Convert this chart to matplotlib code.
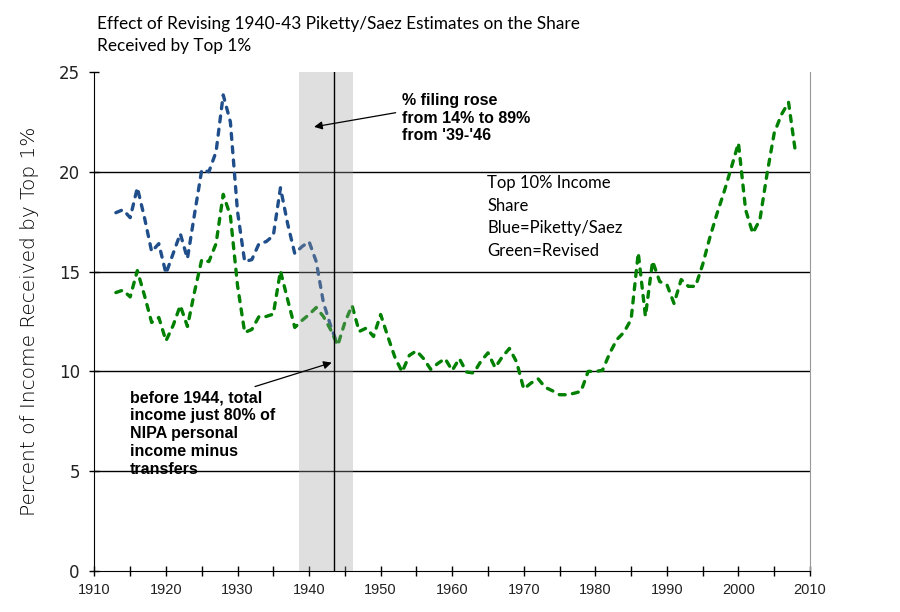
import matplotlib
matplotlib.use("Agg")
import matplotlib.pyplot as plt
import numpy as np

# ---- data ----
blue_years = list(range(1913, 1945))
blue_values = [17.95, 18.1, 17.7, 19.2, 17.7, 16.0, 16.4, 14.9, 15.9, 16.9,
               15.65, 17.9, 20.1, 20.0, 21.0, 23.85, 22.5, 18.0, 15.5, 15.6,
               16.4, 16.5, 16.8, 19.2, 17.4, 15.9, 16.25, 16.5, 15.5, 13.45,
               12.3, 11.3]

green_years = list(range(1913, 2009))
green_values = [13.95, 14.07, 13.73, 15.05, 13.8, 12.45, 12.7, 11.53, 12.3, 13.3,
                12.25, 14.0, 15.6, 15.5, 16.4, 18.87, 17.8, 14.3, 11.95, 12.1,
                12.75, 12.75, 12.87, 15.03, 13.6, 12.2, 12.55, 12.85, 13.2, 12.75,
                12.1, 11.3, 12.45, 13.3, 12.0, 12.17, 11.75, 12.85, 11.75, 10.7,
                9.97, 10.8, 11.03, 10.64, 10.1, 10.4, 10.64, 10.05, 10.64, 9.97,
                9.92, 10.5, 10.93, 10.19, 10.73, 11.15, 10.47, 9.12, 9.41, 9.63,
                9.2, 9.03, 8.83, 8.83, 8.9, 9.0, 10.0, 10.0, 10.05, 10.9,
                11.59, 11.96, 12.6, 15.94, 12.76, 15.52, 14.5, 14.35, 13.4, 14.6,
                14.26, 14.26, 15.35, 16.7, 17.9, 19.0, 20.2, 21.44, 18.1, 16.92,
                17.6, 19.9, 21.94, 22.86, 23.48, 20.9]

band_start, band_end = 1938.6, 1946.2
marker_year = 1943.5
y_ticks = [0, 5, 10, 15, 20, 25]
x_major = list(range(1910, 2011, 10))
x_minor = list(range(1915, 2010, 10))
grid_levels = [5, 10, 15, 20]

title_line1 = "Effect of Revising 1940-43 Piketty/Saez Estimates on the Share"
title_line2 = "Received by Top 1%"
ylabel = "Percent of Income Received by Top 1%"
note1 = "% filing rose\nfrom 14% to 89%\nfrom '39-'46"
note2 = "before 1944, total\nincome just 80% of\nNIPA personal\nincome minus\ntransfers"
note3 = "Top 10% Income\nShare\nBlue=Piketty/Saez\nGreen=Revised"

# ---- figure ----
fig = plt.figure(figsize=(9, 6.12), dpi=100)
ax = fig.add_axes([0.1049, 0.067, 0.7951, 0.8154])
ax.set_xlim(1910, 2010)
ax.set_ylim(0, 25)

for g in grid_levels:
    ax.axhline(g, color="black", lw=1.0, zorder=1)

dash = (0, (1.8, 2.2))
ax.plot(blue_years, blue_values, color="#1F4E8A", lw=2.4, linestyle=dash,
        dash_capstyle="round", zorder=2)
ax.plot(green_years, green_values, color="#008000", lw=2.4, linestyle=dash,
        dash_capstyle="round", zorder=2.5)

ax.axvspan(band_start, band_end, color="#a0a0a0", alpha=0.33, lw=0, zorder=3)
ax.axvline(marker_year, color="black", lw=1.0, zorder=4)

# spines / ticks
ax.spines["top"].set_visible(False)
ax.spines["right"].set_color("#999999")
ax.spines["left"].set_color("black")
ax.spines["bottom"].set_color("black")
ax.set_yticks(y_ticks)
ax.set_xticks(x_major)
ax.set_xticks(x_minor, minor=True)
ax.tick_params(axis="y", direction="inout", length=7, width=1, pad=7,
               labelsize=12, labelcolor="#222222")
ax.tick_params(axis="x", which="both", direction="inout", length=7, width=1,
               pad=5, labelsize=10.5, labelcolor="#222222")
for lab in ax.get_xticklabels():
    lab.set_family(["Liberation Sans", "DejaVu Sans"])
for lab in ax.get_yticklabels():
    lab.set_family(["DejaVu Sans"])

ax.set_ylabel(ylabel, fontsize=14.5, family=["DejaVu Sans"], color="black",
              fontweight="light", labelpad=14)

title_font = dict(ha="left", va="baseline", fontsize=12.4,
                  family=["Lato", "DejaVu Sans"], color="black")
fig.text(97 / 900, 1 - 29.5 / 612, title_line1, **title_font)
fig.text(97 / 900, 1 - 51.5 / 612, title_line2, **title_font)

# annotations
ax.annotate("", xy=(1940.7, 22.25), xytext=(1952.1, 22.96),
            arrowprops=dict(arrowstyle="-|>", color="black", lw=0.9,
                            mutation_scale=12, shrinkA=0, shrinkB=0),
            zorder=5)
ax.text(1953.05, 23.95, note1, ha="left", va="top", fontsize=11.5,
        fontweight="bold", family=["Liberation Sans", "DejaVu Sans"],
        linespacing=1.22, zorder=5)

ax.annotate("", xy=(1943.16, 10.44), xytext=(1932.44, 9.24),
            arrowprops=dict(arrowstyle="-|>", color="black", lw=0.9,
                            mutation_scale=12, shrinkA=0, shrinkB=0),
            zorder=5)
ax.text(1914.97, 9.05, note2, ha="left", va="top", fontsize=11.5,
        fontweight="bold", family=["Liberation Sans", "DejaVu Sans"],
        linespacing=1.24, zorder=5)

ax.text(1964.9, 19.85, note3, ha="left", va="top", fontsize=12,
        family=["Lato", "DejaVu Sans"], linespacing=1.52, zorder=5)

fig.savefig("out.png", dpi=100)
